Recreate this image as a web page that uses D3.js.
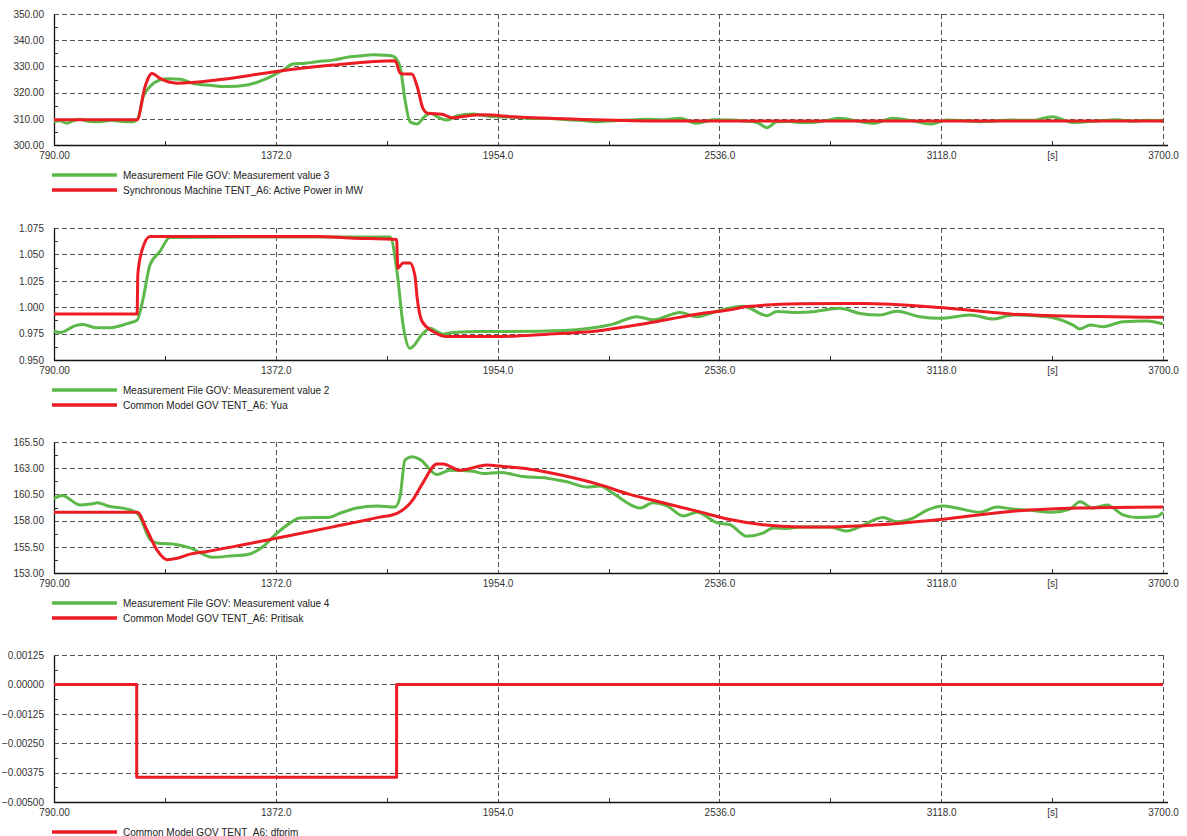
<!DOCTYPE html>
<html>
<head>
<meta charset="utf-8">
<script src="https://cdn.jsdelivr.net/npm/d3@7"></script>
<style>
  body { margin: 0; background: #fff; }
  svg { font-family: "Liberation Sans", Arial, sans-serif; }
</style>
</head>
<body>
<svg width="1187" height="836"></svg>
<script>
// time axis (seconds)
const xTicks = [790, 1372, 1954, 2536, 3118, 3700];
const xMinor = [1081, 1663, 2245, 2827, 3409];
const xLabels = ["790.00", "1372.0", "1954.0", "2536.0", "3118.0", "3700.0"];

// panel 1 - active power
const p1Ticks = [300, 310, 320, 330, 340, 350];
const p1Meas = [[790,308.9],[805,309.3],[824,308.3],[840,309.2],[858,309.8],[880,309.1],[911,308.9],[940,309.4],[970,309.0],[997,308.9],
  [1010,310.2],[1024,318.4],[1042,322.3],[1068,324.8],[1090,325.3],[1121,325.1],[1155,323.5],[1200,322.8],[1244,322.3],[1296,322.9],
  [1349,325.4],[1391,328.6],[1417,330.9],[1450,331.2],[1480,331.8],[1522,332.4],[1567,333.7],[1600,334.1],[1627,334.4],[1660,334.3],[1680,333.9],
  [1698,329.9],[1711,317.2],[1724,308.9],[1743,308.0],[1760,310.5],[1777,312.1],[1803,310.2],[1821,309.5],[1847,311.1],[1889,311.8],
  [1920,311.2],[1952,310.8],[2000,310.6],[2040,310.1],[2084,310.2],[2130,309.7],[2170,309.4],[2215,308.9],[2260,309.3],[2300,309.5],
  [2346,309.8],[2390,309.6],[2433,310.2],[2477,308.3],[2520,309.6],[2564,309.5],[2600,309.2],[2635,308.6],[2661,306.6],[2687,308.9],
  [2720,309.0],[2748,308.6],[2782,308.6],[2815,309.3],[2852,310.2],[2895,309.2],[2939,308.3],[2991,310.2],[3040,309.3],[3089,308.0],
  [3133,309.5],[3180,309.3],[3220,308.9],[3260,309.2],[3306,309.5],[3360,309.4],[3409,310.8],[3464,308.6],[3527,309.2],[3580,309.6],
  [3620,309.1],[3660,309.4],[3700,309.2]];
const p1Sim = [[790,309.6],[1008,309.6],[1029,322.3],[1047,327.3],[1068,325.4],[1113,323.6],[1226,325.0],[1370,328.0],[1522,330.5],
  [1685,332.2],[1698,327.5],[1706,327.1],[1729,327.1],[1743,322.3],[1758,314.0],[1771,312.1],[1808,311.7],[1837,310.4],[1874,311.1],
  [1916,311.5],[1994,310.8],[2126,310.0],[2346,309.2],[2748,309.2],[3700,309.2]];

// panel 2 - Yua
const p2Ticks = [0.950, 0.975, 1.000, 1.025, 1.050, 1.075];
const p2Meas = [[790,0.9777],[806,0.976],[850,0.983],[866,0.9835],[903,0.9805],[937,0.9805],[960,0.982],[982,0.9845],[1008,0.9877],[1024,1.0085],
  [1042,1.0402],[1068,1.0528],[1094,1.0661],[1300,1.0665],[1672,1.0665],[1690,1.0339],[1706,0.9832],[1724,0.9611],[1758,0.975],
  [1777,0.980],[1795,0.977],[1811,0.9745],[1837,0.976],[1908,0.977],[1994,0.977],[2126,0.978],[2215,0.981],[2257,0.984],[2320,0.991],
  [2362,0.988],[2433,0.995],[2477,0.991],[2519,0.995],[2598,1.001],[2661,0.992],[2687,0.996],[2740,0.995],[2782,0.9957],[2852,0.999],
  [2905,0.9941],[2957,0.9926],[3002,0.9962],[3062,0.991],[3115,0.9895],[3194,0.9926],[3254,0.9888],[3306,0.9926],[3396,0.991],
  [3464,0.9831],[3482,0.9794],[3509,0.9831],[3543,0.9815],[3595,0.9863],[3658,0.987],[3700,0.9842]];
const p2Sim = [[790,0.9935],[1008,0.9935],[1010,1.031],[1021,1.054],[1042,1.067],[1480,1.067],[1567,1.0655],[1689,1.064],[1692,1.037],
  [1706,1.0418],[1724,1.0418],[1737,1.030],[1743,1.0085],[1750,0.993],[1756,0.9864],[1785,0.9769],[1821,0.9722],[1952,0.9722],
  [2084,0.9744],[2215,0.9775],[2346,0.9848],[2477,0.9934],[2564,0.9975],[2608,1.0006],[2748,1.0032],[2913,1.0036],[3115,0.9997],
  [3306,0.9934],[3527,0.9911],[3700,0.9905]];

// panel 3 - Pritisak
const p3Ticks = [153.0, 155.5, 158.0, 160.5, 163.0, 165.5];
const p3Meas = [[790,160.1],[811,160.4],[858,159.5],[892,159.6],[903,159.7],[937,159.34],[982,159.1],[1010,158.65],[1042,156.2],
  [1060,155.86],[1113,155.7],[1147,155.4],[1207,154.5],[1260,154.65],[1296,154.74],[1338,155.5],[1375,156.8],[1409,157.76],[1435,158.24],
  [1514,158.33],[1540,158.7],[1585,159.2],[1637,159.4],[1685,159.3],[1698,160.3],[1711,163.8],[1729,164.1],[1750,163.85],[1795,162.4],
  [1829,162.8],[1889,162.7],[1916,162.5],[1960,162.6],[2021,162.2],[2084,162.05],[2136,161.7],[2189,161.2],[2223,161.3],[2257,160.6],
  [2328,159.2],[2362,159.7],[2399,159.4],[2441,158.45],[2477,158.8],[2530,157.8],[2564,157.6],[2608,156.5],[2650,156.8],[2677,157.3],
  [2713,157.25],[2748,157.4],[2826,157.4],[2871,157.0],[2897,157.3],[2965,158.3],[3002,157.9],[3044,158.24],[3081,159.0],[3123,159.4],
  [3159,159.2],[3220,158.8],[3264,159.3],[3306,159.1],[3343,159.0],[3411,158.8],[3456,159.1],[3482,159.8],[3516,159.2],[3553,159.5],
  [3595,158.55],[3632,158.3],[3684,158.4],[3700,158.8]];
const p3Sim = [[790,158.8],[1008,158.8],[1034,157.1],[1060,155.2],[1087,154.27],[1113,154.4],[1147,154.8],[1192,155.06],[1244,155.4],
  [1370,156.3],[1522,157.4],[1645,158.33],[1690,158.7],[1732,160.0],[1758,161.6],[1795,163.4],[1811,163.4],[1855,162.8],[1926,163.3],
  [1960,163.2],[2039,162.9],[2126,162.3],[2215,161.5],[2301,160.5],[2388,159.7],[2477,158.9],[2564,158.1],[2650,157.6],[2748,157.4],
  [2826,157.4],[2957,157.6],[3115,158.1],[3306,158.9],[3482,159.2],[3700,159.3]];

// panel 4 - dfprim
const p4Ticks = [-0.005, -0.00375, -0.0025, -0.00125, 0, 0.00125];
const p4Sim = [[790,0],[1007,0],[1007,-0.00395],[1689,-0.00395],[1689,0],[3700,0]];

const green = "#5cb848", red = "#ec1c24";
const left = 54, right = 1163;

const panels = [
  {top: 14, bottom: 145, ticks: p1Ticks, fmt: d3.format(".2f"), series: [
    {data: p1Meas, color: green, name: "Measurement File GOV: Measurement value 3"},
    {data: p1Sim, color: red, name: "Synchronous Machine TENT_A6: Active Power in MW"}]},
  {top: 228, bottom: 360, ticks: p2Ticks, fmt: d3.format(".3f"), series: [
    {data: p2Meas, color: green, name: "Measurement File GOV: Measurement value 2"},
    {data: p2Sim, color: red, name: "Common Model GOV TENT_A6: Yua"}]},
  {top: 442, bottom: 573, ticks: p3Ticks, fmt: d3.format(".2f"), series: [
    {data: p3Meas, color: green, name: "Measurement File GOV: Measurement value 4"},
    {data: p3Sim, color: red, name: "Common Model GOV TENT_A6: Pritisak"}]},
  {top: 655, bottom: 802, ticks: p4Ticks, fmt: d3.format(".5f"), linear: true, series: [
    {data: p4Sim, color: red, name: "Common Model GOV TENT_A6: dfprim"}]}
];

const svg = d3.select("svg");
const x = d3.scaleLinear().domain([790, 3700]).range([left, right]);

panels.forEach(p => {
  const y = d3.scaleLinear().domain([p.ticks[0], p.ticks[p.ticks.length - 1]]).range([p.bottom, p.top]);
  const g = svg.append("g");

  // dashed grid
  g.selectAll(".hg").data(p.ticks.slice(1)).enter().append("line")
    .attr("x1", left).attr("x2", right)
    .attr("y1", d => Math.round(y(d)) + 0.5).attr("y2", d => Math.round(y(d)) + 0.5)
    .attr("stroke", "#555").attr("stroke-dasharray", "5,3");
  g.selectAll(".vg").data(xTicks.slice(1)).enter().append("line")
    .attr("x1", d => Math.round(x(d)) + 0.5).attr("x2", d => Math.round(x(d)) + 0.5)
    .attr("y1", p.top).attr("y2", p.bottom)
    .attr("stroke", "#555").attr("stroke-dasharray", "5,3");

  // minor ticks
  const yMinor = d3.pairs(p.ticks).map(([a, b]) => (a + b) / 2);
  g.selectAll(".ym").data(yMinor).enter().append("line")
    .attr("x1", left).attr("x2", left + 4)
    .attr("y1", d => Math.round(y(d)) + 0.5).attr("y2", d => Math.round(y(d)) + 0.5)
    .attr("stroke", "#333");
  g.selectAll(".xm").data(xMinor).enter().append("line")
    .attr("x1", d => Math.round(x(d)) + 0.5).attr("x2", d => Math.round(x(d)) + 0.5)
    .attr("y1", p.bottom - 4).attr("y2", p.bottom)
    .attr("stroke", "#333");

  // axes
  const ya = g.append("g").attr("transform", `translate(${left},0)`)
    .call(d3.axisLeft(y).tickValues(p.ticks).tickFormat(p.fmt).tickSize(0).tickPadding(10));
  const xa = g.append("g").attr("transform", `translate(0,${p.bottom})`)
    .call(d3.axisBottom(x).tickValues(xTicks.concat([3409])).tickSize(0).tickPadding(7)
      .tickFormat(d => d === 3409 ? "[s]" : xLabels[xTicks.indexOf(d)]));
  [ya, xa].forEach(a => {
    a.select(".domain").attr("stroke", "#111").attr("stroke-width", 1.3);
    a.selectAll("text").attr("font-size", 10).attr("fill", "#333")
      .attr("font-family", "'Liberation Sans', Arial, sans-serif");
  });
  xa.select(".domain").attr("d", `M${left},0.5H${right + 5}`);

  // lines
  const line = d3.line().x(d => x(d[0])).y(d => y(d[1]))
    .curve(p.linear ? d3.curveLinear : d3.curveMonotoneX);
  p.series.forEach(s => {
    g.append("path").datum(s.data).attr("d", line)
      .attr("fill", "none").attr("stroke", s.color).attr("stroke-width", 3)
      .attr("stroke-linejoin", "round");
  });

  // legend
  p.series.forEach((s, i) => {
    const ly = p.bottom + 30 + i * 15;
    g.append("line").attr("x1", 52).attr("x2", 117).attr("y1", ly).attr("y2", ly)
      .attr("stroke", s.color).attr("stroke-width", 3.5);
    g.append("text").attr("x", 123).attr("y", ly).attr("dy", "0.35em")
      .attr("font-size", 10).attr("fill", "#222").text(s.name);
  });
});
</script>
</body>
</html>
